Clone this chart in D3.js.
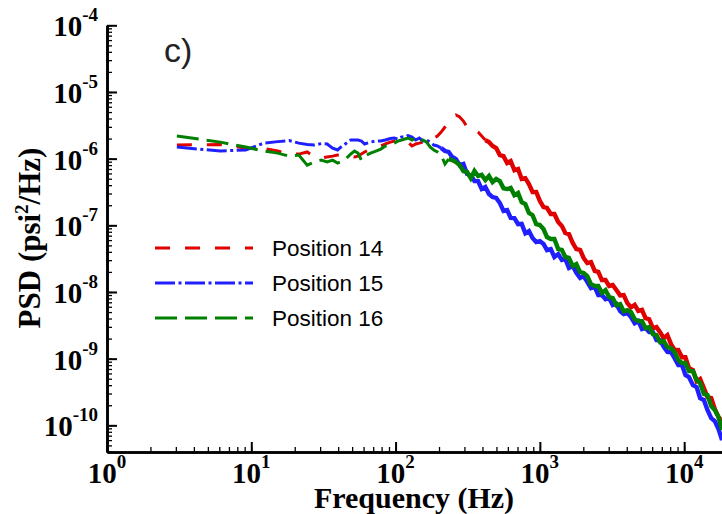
<!DOCTYPE html>
<html>
<head>
<meta charset="utf-8">
<script src="https://cdn.jsdelivr.net/npm/d3@7"></script>
<style>
  body { margin: 0; background: #fff; }
  svg { display: block; }
</style>
</head>
<body>
<div id="chart"></div>
<script>
// Frequencies (Hz) shared by the three PSD traces
const freq = [
  3.05, 6.1, 9.15, 12.2, 15.25, 18.3, 21.35, 24.4, 27.45, 30.5,
  33.55, 36.6, 39.65, 42.7, 45.75, 48.8, 51.85, 54.9, 57.95, 61,
  67, 73, 79, 85, 92, 98, 104, 110, 116, 122,
  130, 138, 146, 155, 164, 174, 184, 195, 207, 220,
  233, 247, 262, 278, 295, 313, 332, 352, 373, 395,
  419, 444, 470, 498, 528, 560, 593, 628, 666, 706,
  748, 793, 840, 890, 943, 1000,
  1060, 1120, 1190, 1260, 1340, 1420, 1500, 1590, 1690, 1790,
  1900, 2010, 2130, 2260, 2400, 2540, 2690, 2850, 3020, 3200,
  3390, 3600, 3810, 4040, 4280, 4540, 4810, 5100, 5400, 5720,
  6070, 6430, 6810, 7220, 7650, 8110, 8600, 9110, 9660, 10200,
  10800, 11500, 12200, 12900, 13700, 14500, 15400, 16300, 17300, 18300
];

// PSD (psi^2/Hz)
const pos14 = [
  1.60e-6, 1.63e-6, 1.44e-6, 1.42e-6, 1.30e-6, 1.17e-6, 1.17e-6, 1.26e-6, 1.06e-6, 1.02e-6,
  1.06e-6, 1.09e-6, 1.13e-6, 1.15e-6, 1.13e-6, 1.09e-6, 1.06e-6, 1.09e-6, 1.17e-6, 1.26e-6,
  1.39e-6, 1.47e-6, 1.55e-6, 1.66e-6, 1.77e-6, 1.84e-6, 1.77e-6, 1.71e-6, 1.77e-6, 1.77e-6,
  1.55e-6, 1.66e-6, 1.71e-6, 1.77e-6, 1.71e-6, 1.84e-6, 2.04e-6, 2.18e-6, 2.50e-6, 2.98e-6,
  3.54e-6, 4.07e-6, 4.51e-6, 4.21e-6, 3.66e-6, 2.98e-6, 2.59e-6, 2.59e-6, 2.50e-6, 2.18e-6,
  1.90e-6, 1.77e-6, 1.55e-6, 1.44e-6, 1.13e-6, 1.09e-6, 8.6e-7, 9.2e-7, 6.7e-7, 7.0e-7,
  4.95e-7, 5.1e-7, 4.16e-7, 3.15e-7, 3.16e-7, 2.32e-7,
  1.87e-7, 1.82e-7, 1.48e-7, 1.48e-7, 1.12e-7, 9.8e-8, 7.7e-8, 7.4e-8, 5.43e-8, 4.4e-8,
  4.27e-8, 3.24e-8, 2.72e-8, 2.81e-8, 2.07e-8, 2.0e-8, 1.51e-8, 1.51e-8, 1.23e-8, 1.27e-8,
  1.07e-8, 8.9e-9, 9.0e-9, 6.8e-9, 5.9e-9, 6.4e-9, 5.2e-9, 5.4e-9, 4.05e-9, 3.9e-9,
  2.87e-9, 2.97e-9, 2.5e-9, 2.03e-9, 2.26e-9, 1.65e-9, 1.34e-9, 1.35e-9, 1.05e-9, 1.05e-9,
  7.2e-10, 6.75e-10, 4.6e-10, 4.95e-10, 3.62e-10, 2.65e-10, 2.56e-10, 1.76e-10, 1.33e-10, 1.16e-10
];

const pos15 = [
  1.49e-6, 1.30e-6, 1.35e-6, 1.71e-6, 1.80e-6, 1.87e-6, 1.71e-6, 1.63e-6, 1.60e-6, 1.68e-6,
  1.66e-6, 1.44e-6, 1.35e-6, 1.55e-6, 1.71e-6, 1.90e-6, 1.90e-6, 1.90e-6, 1.84e-6, 1.66e-6,
  1.77e-6, 1.84e-6, 1.84e-6, 1.90e-6, 2.0e-6, 2.04e-6, 1.97e-6, 2.11e-6, 2.11e-6, 2.22e-6,
  2.11e-6, 1.90e-6, 2.04e-6, 1.84e-6, 1.90e-6, 1.77e-6, 1.60e-6, 1.55e-6, 1.44e-6, 1.30e-6,
  1.26e-6, 1.06e-6, 9.8e-7, 8.0e-7, 8.3e-7, 5.9e-7, 5.7e-7, 4.6e-7, 4.6e-7, 3.5e-7,
  3.75e-7, 2.95e-7, 2.65e-7, 2.57e-7, 2.16e-7, 1.64e-7, 1.69e-7, 1.29e-7, 1.28e-7, 1.04e-7,
  1.05e-7, 7.6e-8, 8.2e-8, 6.45e-8, 5.6e-8, 5.8e-8,
  5.25e-8, 4.25e-8, 4.4e-8, 3.35e-8, 3.7e-8, 3.02e-8, 3.13e-8, 2.29e-8, 2.45e-8, 1.93e-8,
  1.62e-8, 1.73e-8, 1.42e-8, 1.14e-8, 1.19e-8, 9.0e-9, 9.0e-9, 7.8e-9, 8.1e-9, 6.35e-9,
  6.6e-9, 5.17e-9, 4.65e-9, 4.83e-9, 4.21e-9, 3.4e-9, 3.66e-9, 2.77e-9, 2.88e-9, 2.5e-9,
  2.5e-9, 1.9e-9, 1.89e-9, 1.5e-9, 1.26e-9, 1.25e-9, 1.01e-9, 8.0e-10, 8.0e-10, 5.7e-10,
  5.3e-10, 4.0e-10, 3.76e-10, 2.56e-10, 2.4e-10, 1.7e-10, 1.28e-10, 1.16e-10, 8.8e-11, 6.0e-11
];

const pos16 = [
  2.18e-6, 1.77e-6, 1.49e-6, 1.30e-6, 1.21e-6, 1.09e-6, 1.13e-6, 8.0e-7, 8.9e-7, 9.5e-7,
  8.9e-7, 9.5e-7, 8.6e-7, 9.2e-7, 1.02e-6, 1.17e-6, 1.30e-6, 1.21e-6, 9.5e-7, 1.09e-6,
  1.21e-6, 1.30e-6, 1.39e-6, 1.55e-6, 1.60e-6, 1.71e-6, 1.84e-6, 1.90e-6, 1.97e-6, 2.04e-6,
  1.90e-6, 2.04e-6, 1.84e-6, 1.90e-6, 1.77e-6, 1.49e-6, 1.35e-6, 1.26e-6, 1.13e-6, 8.3e-7,
  9.8e-7, 9.5e-7, 8.9e-7, 8.0e-7, 6.5e-7, 6.3e-7, 5.1e-7, 6.55e-7, 5.5e-7, 5.7e-7,
  4.77e-7, 5.48e-7, 4.45e-7, 4.95e-7, 4.6e-7, 3.6e-7, 3.5e-7, 3.63e-7, 2.84e-7, 3.05e-7,
  2.23e-7, 2.08e-7, 1.53e-7, 1.42e-7, 1.04e-7, 1.01e-7,
  8.8e-8, 6.66e-8, 6.24e-8, 6.23e-8, 4.4e-8, 4.27e-8, 3.35e-8, 3.24e-8, 2.45e-8, 2.63e-8,
  1.99e-8, 1.93e-8, 1.73e-8, 1.31e-8, 1.23e-8, 1.23e-8, 9.7e-9, 1.07e-8, 8.4e-9, 8.1e-9,
  6.35e-9, 6.58e-9, 5.14e-9, 5.36e-9, 4.99e-9, 3.92e-9, 3.66e-9, 3.66e-9, 2.86e-9, 2.97e-9,
  2.34e-9, 2.26e-9, 1.77e-9, 1.83e-9, 1.49e-9, 1.44e-9, 1.25e-9, 9.5e-10, 8.6e-10, 8.6e-10,
  6.5e-10, 6.5e-10, 4.8e-10, 4.3e-10, 2.95e-10, 2.85e-10, 1.94e-10, 1.7e-10, 1.33e-10, 8.5e-11
];

const seriesNames = ["Position 14", "Position 15", "Position 16"];
const xTickExps = [0, 1, 2, 3, 4];
const yTickExps = [-4, -5, -6, -7, -8, -9, -10];
const panelLabel = "c)";

const width = 722, height = 514;
const serif = "'Liberation Serif', 'Times New Roman', serif";
const sans = "'Liberation Sans', Arial, Helvetica, sans-serif";

const svg = d3.select("#chart")
  .append("svg")
  .attr("width", width)
  .attr("height", height);

// scales (log-log)
const x = d3.scaleLog().domain([1, 2e4]).range([107, 727.6]);
const y = d3.scaleLog().domain([3.98e-11, 1e-4]).range([452, 25.3]);

const yBottom = 452, xLeft = 107;

svg.append("defs").append("clipPath").attr("id", "plotClip")
  .append("rect").attr("x", xLeft).attr("y", 0)
  .attr("width", width - xLeft).attr("height", yBottom);

// series styles
const styles = [
  { color: "#e00000", dash: "15,15", solidFrom: 419 },
  { color: "#1f1fff", dash: "20,3.5,3,3.5", solidFrom: 207 },
  { color: "#008000", dash: "22,8", solidFrom: 233 }
];
const allSeries = [pos14, pos15, pos16];

const line = d3.line()
  .x(d => x(d[0]))
  .y(d => y(d[1]));

const plot = svg.append("g").attr("clip-path", "url(#plotClip)");

allSeries.forEach((vals, i) => {
  const st = styles[i];
  const pts = freq.map((f, j) => [f, vals[j]]);
  const lowPart = pts.filter(d => d[0] <= st.solidFrom);
  const highPart = pts.filter(d => d[0] >= st.solidFrom);
  plot.append("path")
    .datum(lowPart)
    .attr("d", line)
    .attr("fill", "none")
    .attr("stroke", st.color)
    .attr("stroke-width", 3)
    .attr("stroke-dasharray", st.dash);
  // dense noisy part of the spectrum reads as a solid band
  plot.append("path")
    .datum(highPart)
    .attr("d", line)
    .attr("fill", "none")
    .attr("stroke", st.color)
    .attr("stroke-width", 4.4)
    .attr("stroke-linejoin", "miter");
});

// axes: minor + major ticks pointing inward
const xMinor = x.ticks().filter(v => v >= 1 && v <= 2e4);
const yMinor = y.ticks().filter(v => v >= 3.98e-11 && v <= 1e-4);

function styleAxis(g, w) {
  g.selectAll("path.domain").attr("stroke", "#000").attr("stroke-width", 2.6);
  g.selectAll(".tick line").attr("stroke", "#000").attr("stroke-width", w);
  g.selectAll(".tick text").remove();
}

svg.append("g")
  .attr("transform", `translate(0,${yBottom})`)
  .call(d3.axisBottom(x).tickValues(xMinor).tickSize(-5).tickSizeOuter(0).tickFormat(""))
  .call(g => styleAxis(g, 1.3));
svg.append("g")
  .attr("transform", `translate(0,${yBottom})`)
  .call(d3.axisBottom(x).tickValues(xTickExps.map(e => 10 ** e)).tickSize(-10).tickSizeOuter(0).tickFormat(""))
  .call(g => styleAxis(g, 2));

svg.append("g")
  .attr("transform", `translate(${xLeft},0)`)
  .call(d3.axisLeft(y).tickValues(yMinor).tickSize(-5).tickSizeOuter(0).tickFormat(""))
  .call(g => styleAxis(g, 1.3));
svg.append("g")
  .attr("transform", `translate(${xLeft},0)`)
  .call(d3.axisLeft(y).tickValues(yTickExps.map(e => 10 ** e)).tickSize(-10).tickSizeOuter(0).tickFormat(""))
  .call(g => styleAxis(g, 2));

// tick labels 10^n
yTickExps.forEach(e => {
  const t = svg.append("text")
    .attr("x", 98)
    .attr("y", y(10 ** e) + 11)
    .attr("text-anchor", "end")
    .attr("font-family", serif)
    .attr("font-weight", "bold")
    .attr("font-size", 29)
    .attr("fill", "#000");
  t.append("tspan").text("10");
  t.append("tspan").attr("dy", -15).attr("font-size", 19).text(e);
});

xTickExps.forEach(e => {
  const t = svg.append("text")
    .attr("x", x(10 ** e))
    .attr("y", 483)
    .attr("text-anchor", "middle")
    .attr("font-family", serif)
    .attr("font-weight", "bold")
    .attr("font-size", 29)
    .attr("fill", "#000");
  t.append("tspan").text("10");
  t.append("tspan").attr("dy", -15).attr("font-size", 19).text(e);
});

// axis titles
svg.append("text")
  .attr("x", 414)
  .attr("y", 508)
  .attr("text-anchor", "middle")
  .attr("font-family", serif)
  .attr("font-weight", "bold")
  .attr("font-size", 30)
  .text("Frequency (Hz)");

const yt = svg.append("text")
  .attr("transform", "translate(40,238) rotate(-90)")
  .attr("text-anchor", "middle")
  .attr("font-family", serif)
  .attr("font-weight", "bold")
  .attr("font-size", 31);
yt.append("tspan").text("PSD (psi");
yt.append("tspan").attr("dy", -12).attr("font-size", 19).text("2");
yt.append("tspan").attr("dy", 12).text("/Hz)");

// panel label
svg.append("text")
  .attr("x", 164)
  .attr("y", 62)
  .attr("font-family", sans)
  .attr("font-size", 34)
  .attr("fill", "#222")
  .text(panelLabel);

// legend
const legend = svg.append("g").attr("transform", "translate(155,248)");
seriesNames.forEach((name, i) => {
  const row = legend.append("g").attr("transform", `translate(0,${i * 35})`);
  row.append("line")
    .attr("x1", 0).attr("x2", 98)
    .attr("y1", 0).attr("y2", 0)
    .attr("stroke", styles[i].color)
    .attr("stroke-width", 3)
    .attr("stroke-dasharray", styles[i].dash);
  row.append("text")
    .attr("x", 117)
    .attr("y", 8)
    .attr("font-family", sans)
    .attr("font-size", 22.5)
    .attr("fill", "#000")
    .text(name);
});
</script>
</body>
</html>
